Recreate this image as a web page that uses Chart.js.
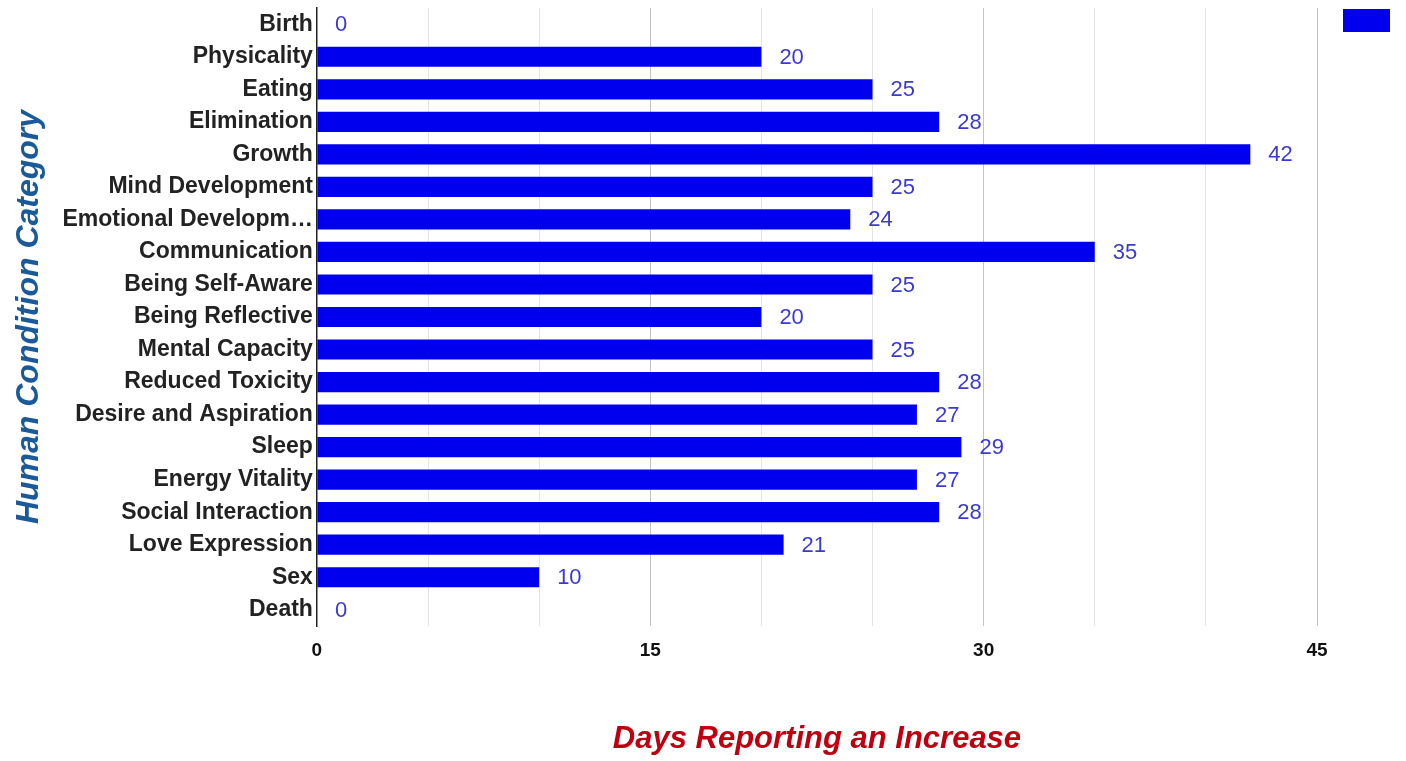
<!DOCTYPE html>
<html>
<head>
<meta charset="utf-8">
<script src="https://cdn.jsdelivr.net/npm/chart.js@4/dist/chart.umd.min.js"></script>
<style>
  html, body { margin: 0; padding: 0; background: #fff; overflow: hidden; }
  canvas { display: block; }
</style>
</head>
<body>
<canvas id="barChart" width="1406" height="761"></canvas>
<script>
const categories = ["Birth", "Physicality", "Eating", "Elimination", "Growth", "Mind Development",
    "Emotional Developm\u2026", "Communication", "Being Self-Aware", "Being Reflective", "Mental Capacity",
    "Reduced Toxicity", "Desire and Aspiration", "Sleep", "Energy Vitality", "Social Interaction",
    "Love Expression", "Sex", "Death"];
const days = [0, 20, 25, 28, 42, 25, 24, 35, 25, 20, 25, 28, 27, 29, 27, 28, 21, 10, 0];
const xTicks = [0, 15, 30, 45];

const FONT = "'Liberation Sans', Arial, sans-serif";

// value labels next to bar ends + legend swatch top right
const valueLabels = {
    id: 'valueLabels',
    afterDatasetsDraw(chart) {
        const ctx = chart.ctx;
        const meta = chart.getDatasetMeta(0);
        ctx.save();
        ctx.font = "22px " + FONT;
        ctx.fillStyle = '#3a3ad2';
        ctx.textBaseline = 'middle';
        ctx.textAlign = 'left';
        meta.data.forEach((bar, i) => {
            ctx.fillText(String(days[i]), bar.x + 18, bar.y + 1);
        });
        // legend swatch (no text in the original)
        ctx.fillStyle = '#0000ee';
        ctx.fillRect(chart.chartArea.right + 26, 9, 47, 23);
        ctx.restore();
    }
};

const ctx = document.getElementById('barChart');

new Chart(ctx, {
    type: 'bar',
    data: {
        labels: categories,
        datasets: [{
            label: '',
            data: days,
            backgroundColor: '#0000ee',
            barPercentage: 0.62,
            categoryPercentage: 1.0
        }]
    },
    plugins: [valueLabels],
    options: {
        indexAxis: 'y',
        responsive: false,
        animation: false,
        maintainAspectRatio: false,
        layout: {
            padding: { top: 8, right: 89, bottom: 3, left: 10 }
        },
        plugins: {
            legend: { display: false },
            tooltip: { enabled: false }
        },
        scales: {
            x: {
                min: 0,
                max: 45,
                ticks: {
                    stepSize: 5,
                    autoSkip: false,
                    maxRotation: 0,
                    padding: 13,
                    color: '#111',
                    font: { family: FONT, size: 19, weight: 'bold' },
                    callback: v => xTicks.includes(v) ? String(v) : ''
                },
                grid: {
                    color: c => (c.tick && xTicks.includes(c.tick.value)) ? '#c4c4c4' : '#e4e4e4',
                    lineWidth: 1,
                    drawTicks: false
                },
                border: { display: false },
                title: {
                    display: true,
                    text: 'Days Reporting an Increase',
                    color: '#c00010',
                    padding: { top: 46, bottom: 0 },
                    font: { family: FONT, size: 31, weight: 'bold', style: 'italic' }
                }
            },
            y: {
                afterFit: s => { s.paddingTop = 0; s.paddingBottom = 0; },
                ticks: {
                    autoSkip: false,
                    padding: 4,
                    color: '#222',
                    font: { family: FONT, size: 23, weight: 'bold' }
                },
                grid: { display: false, drawTicks: false },
                border: { display: true, color: '#222', width: 1.5 },
                title: {
                    display: true,
                    text: 'Human Condition Category',
                    color: '#1a5a9a',
                    padding: { top: 0, bottom: 10 },
                    font: { family: FONT, size: 32, weight: 'bold', style: 'italic' }
                }
            }
        }
    }
});
</script>
</body>
</html>
